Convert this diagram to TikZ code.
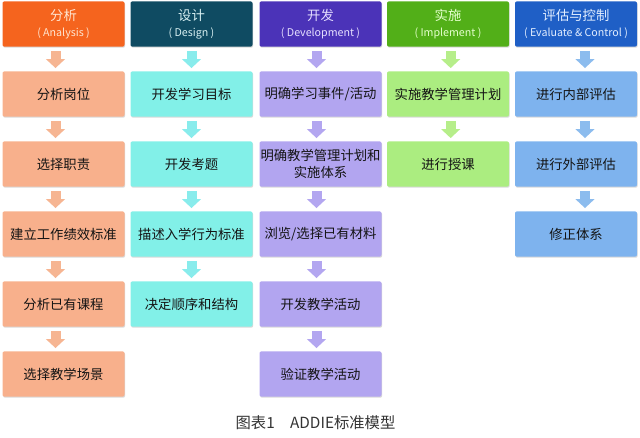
\documentclass[tikz,border=0pt]{standalone}
\usepackage{fontspec}
\setmainfont{Noto Sans CJK SC}
\usetikzlibrary{arrows.meta,shadows}

\definecolor{anaHead}{HTML}{F5641E}
\definecolor{anaBox}{HTML}{F8B08C}
\definecolor{anaArrow}{HTML}{F6B592}
\definecolor{anaText}{HTML}{FFE6D2}
\definecolor{desHead}{HTML}{0F4B62}
\definecolor{desBox}{HTML}{82F0E8}
\definecolor{desArrow}{HTML}{88ECEC}
\definecolor{desText}{HTML}{D8F0F2}
\definecolor{devHead}{HTML}{4B33B8}
\definecolor{devBox}{HTML}{B2A5F0}
\definecolor{devArrow}{HTML}{B3A6F0}
\definecolor{devText}{HTML}{E6E0FF}
\definecolor{impHead}{HTML}{52AF18}
\definecolor{impBox}{HTML}{ABED80}
\definecolor{impArrow}{HTML}{B6EE8A}
\definecolor{impText}{HTML}{E4FFCC}
\definecolor{evaHead}{HTML}{1F5FC6}
\definecolor{evaBox}{HTML}{7EB3EE}
\definecolor{evaArrow}{HTML}{8CBCEE}
\definecolor{evaText}{HTML}{E2EEFF}

\newcommand{\headsub}[1]{{\fontsize{8}{10}\selectfont #1}}

\begin{document}
\begin{tikzpicture}[x=0.75pt,y=-0.75pt,
  box/.style={rounded corners=1.5pt, minimum width=91.5pt, minimum height=34pt,
    inner sep=0pt, align=center, text=black!92, font=\fontsize{10}{12.5}\selectfont,
    drop shadow={shadow xshift=0.5pt, shadow yshift=-0.8pt, opacity=0.3}},
  head/.style={box, font=\fontsize{10}{12}\selectfont},
  flow/.style={line width=7.5pt, -{Triangle[width=14pt,length=6.75pt]},
    shorten <=3pt, shorten >=2.25pt}
]
  \useasboundingbox (0,0) rectangle (640,437);

  % Define nodes for the five headers
  \node[head, fill=anaHead, text=anaText] (A0) at (63.5,24) {分析\\\headsub{( Analysis )}};
  \node[head, fill=desHead, text=desText] (D0) at (191.5,24) {设计\\\headsub{( Design )}};
  \node[head, fill=devHead, text=devText] (V0) at (320.5,24) {开发\\\headsub{( Development )}};
  \node[head, fill=impHead, text=impText] (I0) at (448,24) {实施\\\headsub{( Implement )}};
  \node[head, fill=evaHead, text=evaText] (E0) at (576,24) {评估与控制\\\headsub{( Evaluate \& Control )}};

  % Analysis column
  \node[box, fill=anaBox] (A1) at (63.5,94) {分析岗位};
  \node[box, fill=anaBox] (A2) at (63.5,164) {选择职责};
  \node[box, fill=anaBox] (A3) at (63.5,234) {建立工作绩效标准};
  \node[box, fill=anaBox] (A4) at (63.5,304) {分析已有课程};
  \node[box, fill=anaBox] (A5) at (63.5,374) {选择教学场景};

  % Design column
  \node[box, fill=desBox] (D1) at (191.5,94) {开发学习目标};
  \node[box, fill=desBox] (D2) at (191.5,164) {开发考题};
  \node[box, fill=desBox] (D3) at (191.5,234) {描述入学行为标准};
  \node[box, fill=desBox] (D4) at (191.5,304) {决定顺序和结构};

  % Development column
  \node[box, fill=devBox] (V1) at (320.5,94) {明确学习事件/活动};
  \node[box, fill=devBox] (V2) at (320.5,164) {明确教学管理计划和\\实施体系};
  \node[box, fill=devBox] (V3) at (320.5,234) {浏览/选择已有材料};
  \node[box, fill=devBox] (V4) at (320.5,304) {开发教学活动};
  \node[box, fill=devBox] (V5) at (320.5,374) {验证教学活动};

  % Implement column
  \node[box, fill=impBox] (I1) at (448,94) {实施教学管理计划};
  \node[box, fill=impBox] (I2) at (448,164) {进行授课};

  % Evaluate column
  \node[box, fill=evaBox] (E1) at (576,94) {进行内部评估};
  \node[box, fill=evaBox] (E2) at (576,164) {进行外部评估};
  \node[box, fill=evaBox] (E3) at (576,234) {修正体系};

  % Caption
  \node[font=\fontsize{11.5}{14}\selectfont, text=black!80] (cap) at (315.5,423) {图表1\quad ADDIE标准模型};

  % Draw arrows
  \draw[flow, anaArrow] ([xshift=-6pt]A0.south) -- ([xshift=-6pt]A1.north);
  \draw[flow, anaArrow] ([xshift=-6pt]A1.south) -- ([xshift=-6pt]A2.north);
  \draw[flow, anaArrow] ([xshift=-6pt]A2.south) -- ([xshift=-6pt]A3.north);
  \draw[flow, anaArrow] ([xshift=-6pt]A3.south) -- ([xshift=-6pt]A4.north);
  \draw[flow, anaArrow] ([xshift=-6pt]A4.south) -- ([xshift=-6pt]A5.north);

  \draw[flow, desArrow] (D0) -- (D1);
  \draw[flow, desArrow] (D1) -- (D2);
  \draw[flow, desArrow] (D2) -- (D3);
  \draw[flow, desArrow] (D3) -- (D4);

  \draw[flow, devArrow] ([xshift=-3pt]V0.south) -- ([xshift=-3pt]V1.north);
  \draw[flow, devArrow] ([xshift=-3pt]V1.south) -- ([xshift=-3pt]V2.north);
  \draw[flow, devArrow] ([xshift=-3pt]V2.south) -- ([xshift=-3pt]V3.north);
  \draw[flow, devArrow] ([xshift=-3pt]V3.south) -- ([xshift=-3pt]V4.north);
  \draw[flow, devArrow] ([xshift=-3pt]V4.south) -- ([xshift=-3pt]V5.north);

  \draw[flow, impArrow] ([xshift=2pt]I0.south) -- ([xshift=2pt]I1.north);
  \draw[flow, impArrow] ([xshift=2pt]I1.south) -- ([xshift=2pt]I2.north);

  \draw[flow, evaArrow] ([xshift=6.75pt]E0.south) -- ([xshift=6.75pt]E1.north);
  \draw[flow, evaArrow] ([xshift=6.75pt]E1.south) -- ([xshift=6.75pt]E2.north);
  \draw[flow, evaArrow] ([xshift=6.75pt]E2.south) -- ([xshift=6.75pt]E3.north);

\end{tikzpicture}
\end{document}
